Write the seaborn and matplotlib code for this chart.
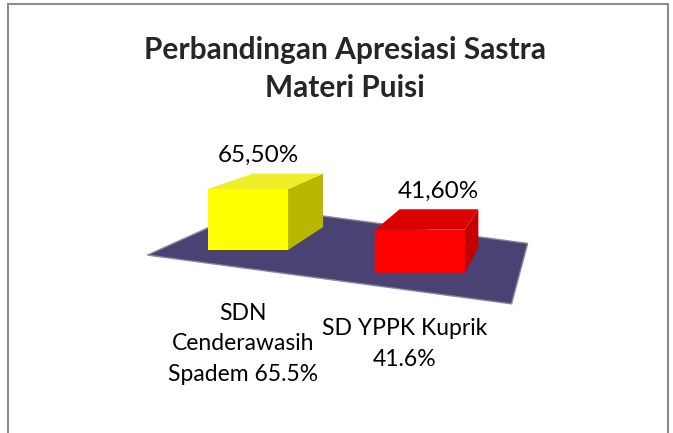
import matplotlib
matplotlib.use("Agg")
import matplotlib.pyplot as plt
import numpy as np
import pandas as pd
import seaborn as sns
from matplotlib.patches import Polygon, Rectangle
from matplotlib.transforms import Affine2D, IdentityTransform

# === Data ===
schools = ["SDN\nCenderawasih\nSpadem 65.5%", "SD YPPK Kuprik\n41.6%"]
scores = [65.5, 41.6]
score_labels = ["65,50%", "41,60%"]
front_colors = ["#FFFF00", "#FF0000"]
top_colors = ["#EEEE2A", "#DD0000"]
side_colors = ["#B8B800", "#C20000"]
title = "Perbandingan Apresiasi Sastra\nMateri Puisi"

sns.set_style("white")
plt.rcParams["font.family"] = ["Lato", "DejaVu Sans"]

W, H = 673, 433
fig = plt.figure(figsize=(W / 100, H / 100), dpi=100)
ax = fig.add_axes([0, 0, 1, 1])

df = pd.DataFrame({"school": schools, "score": scores})
sns.barplot(data=df, x="school", y="score", hue="school", palette=front_colors,
            saturation=1, width=80 / 172, legend=False, ax=ax, linewidth=0)

# pixel-like scales: 172 px per category, 0.93 px per percent
ax.set_xlim(-248 / 172, (W - 248) / 172)
ax.set_ylim(-183 / 0.93, (H - 183) / 0.93)
ax.axis("off")

# --- fake 3D: perspective toward a vanishing point (display px) ---
VP = np.array([576.0, 371.0])
x0 = ax.transData.transform((0, 0))
step = ax.transData.transform((1, 0))[0] - x0[0]


def persp(cx):
    t = (cx - x0[0]) / step
    return 1 + 0.12 * t, 0.134 * (cx - x0[0])


def back(p, f=0.122):
    p = np.asarray(p, dtype=float)
    return p + f * (VP - p)


ident = IdentityTransform()

# floor
floor_pts = []
for xd in (-0.40, 1.56):
    px = ax.transData.transform((xd, 0))
    _, drop = persp(px[0])
    floor_pts.append(np.array([px[0], px[1] - drop]))
fl = floor_pts[0] - 0.08 * (VP - floor_pts[0])
fr = floor_pts[1] - 0.08 * (VP - floor_pts[1])
br = back(floor_pts[1], 0.19)
bl = back(floor_pts[0], 0.19)
ax.add_patch(Polygon([fl, fr, br, bl], closed=True, facecolor="#4A4273",
                     edgecolor="#8a86a0", linewidth=1, transform=ident, zorder=1))

# bars
bars = [p for p in ax.patches if isinstance(p, Rectangle)]
for i, patch in enumerate(bars):
    (dx0, dy0) = ax.transData.transform((patch.get_x(), patch.get_y()))
    (dx1, dy1) = ax.transData.transform((patch.get_x() + patch.get_width(),
                                         patch.get_y() + patch.get_height()))
    cx = (dx0 + dx1) / 2
    s, drop = persp(cx)
    tr = Affine2D().translate(-cx, -dy0).scale(s).translate(cx, dy0 - drop)
    patch.set_transform(ax.transData + tr)
    patch.set_zorder(3)
    patch.set_linewidth(0)

    hw = (dx1 - dx0) / 2 * s
    base = dy0 - drop
    top = dy0 + (dy1 - dy0) * s - drop
    TL, TR = np.array([cx - hw, top]), np.array([cx + hw, top])
    BR = np.array([cx + hw, base])
    ax.add_patch(Polygon([BR, TR, back(TR), back(BR)], closed=True,
                         facecolor=side_colors[i], edgecolor="none",
                         transform=ident, zorder=2))
    ax.add_patch(Polygon([TL, TR, back(TR), back(TL)], closed=True,
                         facecolor=top_colors[i], edgecolor="none",
                         transform=ident, zorder=2))

    # value label
    lx = cx + 10 + 0.05 * (cx - x0[0])
    ly = max(back(TL)[1], back(TR)[1]) + 18
    ax.annotate(score_labels[i], (lx, ly), xycoords="figure pixels",
                ha="center", va="center", fontsize=17.5, color="black")

    # category label
    ax.annotate(schools[i], (cx - 5 - 0.06 * (cx - x0[0]), 89), xycoords="figure pixels",
                ha="center", va="center", fontsize=16.5, color="black",
                linespacing=1.58, multialignment="center")

# title
fig.text(345 / W, 364 / H, title, ha="center", va="center", fontsize=21.5,
         fontweight="bold", linespacing=1.4)

# chart area border
fig.add_artist(Rectangle((8, -10), 660, H - 4 + 10, transform=ident, fill=False,
                         edgecolor="#8c8c8c", linewidth=1.5))

fig.savefig("out.png", dpi=100)
